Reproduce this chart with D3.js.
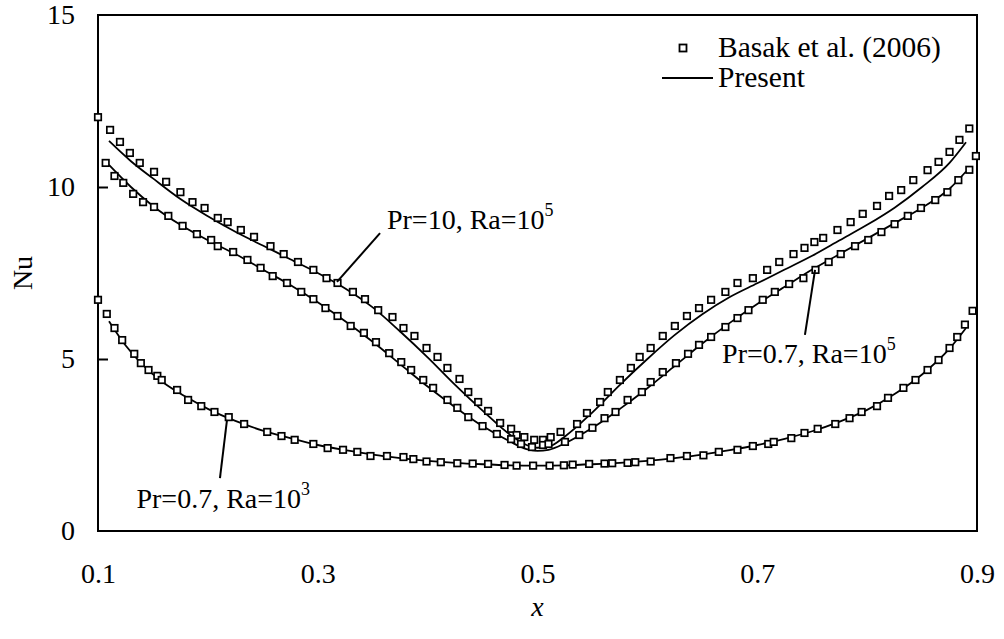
<!DOCTYPE html>
<html>
<head>
<meta charset="utf-8">
<script src="https://cdn.jsdelivr.net/npm/d3@7"></script>
<style>
  body { margin: 0; background: #fff; }
</style>
</head>
<body>
<div id="main"></div>
<script>
// tick labels
const xTicks = [0.1, 0.3, 0.5, 0.7, 0.9];
const yTicks = [0, 5, 10, 15];

// Basak et al. (2006), [x, Nu]
const basakPr10 = [
  [0.100,12.03],[0.111,11.66],[0.120,11.31],[0.129,10.99],[0.138,10.70],[0.151,10.44],[0.162,10.15],
  [0.175,9.85],[0.186,9.56],[0.197,9.39],[0.209,9.10],[0.218,8.98],[0.230,8.75],[0.242,8.55],
  [0.257,8.28],[0.269,8.05],[0.282,7.82],[0.296,7.59],[0.308,7.35],[0.318,7.21],[0.332,6.95],
  [0.343,6.74],[0.355,6.42],[0.368,6.22],[0.378,5.90],[0.388,5.67],[0.399,5.32],[0.409,5.06],
  [0.418,4.74],[0.429,4.42],[0.437,4.04],[0.446,3.75],[0.455,3.49],[0.466,3.14],[0.476,2.97],
  [0.481,2.79],[0.488,2.73],[0.497,2.65],[0.505,2.65],[0.512,2.73],[0.521,2.88],[0.536,3.11],
  [0.545,3.43],[0.557,3.75],[0.564,4.04],[0.575,4.39],[0.585,4.74],[0.593,5.06],[0.603,5.32],
  [0.614,5.67],[0.625,5.96],[0.636,6.25],[0.647,6.48],[0.658,6.72],[0.671,6.95],[0.682,7.21],
  [0.696,7.35],[0.709,7.59],[0.720,7.82],[0.733,8.05],[0.743,8.23],[0.752,8.40],[0.760,8.52],
  [0.773,8.75],[0.785,8.98],[0.796,9.22],[0.809,9.45],[0.820,9.74],[0.831,9.91],[0.842,10.20],
  [0.855,10.49],[0.865,10.73],[0.875,11.02],[0.884,11.37],[0.893,11.70]
];
const basakPr07Ra5 = [
  [0.107,10.70],[0.115,10.32],[0.123,10.12],[0.132,9.80],[0.141,9.56],[0.151,9.42],[0.164,9.16],
  [0.177,8.87],[0.190,8.63],[0.203,8.46],[0.209,8.28],[0.223,8.11],[0.236,7.88],[0.248,7.65],
  [0.259,7.41],[0.272,7.21],[0.285,6.95],[0.296,6.74],[0.307,6.48],[0.318,6.25],[0.330,5.96],
  [0.342,5.76],[0.353,5.49],[0.365,5.17],[0.376,4.91],[0.385,4.68],[0.396,4.39],[0.405,4.16],
  [0.418,3.81],[0.427,3.58],[0.437,3.31],[0.450,3.05],[0.463,2.82],[0.476,2.67],[0.485,2.53],
  [0.495,2.44],[0.505,2.50],[0.510,2.53],[0.525,2.59],[0.538,2.79],[0.550,3.00],[0.561,3.28],
  [0.571,3.46],[0.582,3.81],[0.595,4.04],[0.603,4.33],[0.614,4.62],[0.626,4.88],[0.637,5.15],
  [0.647,5.41],[0.658,5.64],[0.671,5.93],[0.682,6.19],[0.692,6.42],[0.705,6.72],[0.716,6.95],
  [0.729,7.18],[0.742,7.35],[0.753,7.59],[0.765,7.82],[0.776,8.05],[0.789,8.28],[0.801,8.46],
  [0.813,8.69],[0.825,8.92],[0.837,9.16],[0.849,9.39],[0.862,9.62],[0.873,9.85],[0.883,10.20],
  [0.893,10.50],[0.899,10.90]
];
const basakPr07Ra3 = [
  [0.100,6.72],[0.108,6.31],[0.115,5.90],[0.122,5.55],[0.133,5.15],[0.139,4.88],[0.146,4.68],
  [0.154,4.51],[0.158,4.39],[0.172,4.10],[0.182,3.81],[0.194,3.63],[0.206,3.46],[0.219,3.31],
  [0.233,3.11],[0.254,2.88],[0.267,2.76],[0.279,2.65],[0.296,2.53],[0.309,2.41],[0.323,2.36],
  [0.336,2.30],[0.348,2.18],[0.363,2.18],[0.378,2.15],[0.387,2.09],[0.399,2.02],[0.412,2.00],
  [0.427,1.97],[0.441,1.96],[0.455,1.95],[0.470,1.92],[0.481,1.90],[0.496,1.90],[0.511,1.90],
  [0.524,1.91],[0.532,1.93],[0.547,1.95],[0.561,1.96],[0.568,1.97],[0.582,1.98],[0.589,2.00],
  [0.603,2.02],[0.621,2.12],[0.636,2.18],[0.651,2.20],[0.665,2.30],[0.682,2.36],[0.696,2.47],
  [0.710,2.53],[0.715,2.59],[0.731,2.70],[0.743,2.85],[0.755,2.97],[0.771,3.11],[0.784,3.28],
  [0.795,3.46],[0.809,3.63],[0.819,3.87],[0.833,4.16],[0.844,4.39],[0.855,4.68],[0.865,4.97],
  [0.875,5.32],[0.882,5.64],[0.889,6.00],[0.896,6.40]
];

// Present results, [x, Nu]
const presentPr10 = [
  [0.110,11.34],[0.130,10.75],[0.150,10.25],[0.175,9.65],[0.200,9.15],[0.225,8.70],[0.250,8.30],
  [0.275,7.90],[0.300,7.50],[0.325,7.05],[0.350,6.50],[0.375,5.80],[0.400,5.05],[0.425,4.25],
  [0.450,3.50],[0.475,2.80],[0.490,2.50],[0.500,2.42],[0.510,2.45],[0.525,2.75],[0.550,3.45],
  [0.575,4.25],[0.600,5.00],[0.625,5.70],[0.650,6.30],[0.675,6.80],[0.700,7.20],[0.725,7.60],
  [0.750,8.00],[0.775,8.45],[0.800,8.90],[0.825,9.40],[0.850,10.00],[0.875,10.70],[0.890,11.30]
];
const presentPr07Ra5 = [
  [0.110,10.64],[0.130,10.00],[0.150,9.45],[0.175,8.90],[0.200,8.45],[0.225,8.05],[0.250,7.60],
  [0.275,7.15],[0.300,6.65],[0.325,6.10],[0.350,5.50],[0.375,4.85],[0.400,4.20],[0.425,3.60],
  [0.450,3.05],[0.475,2.60],[0.490,2.38],[0.500,2.33],[0.510,2.36],[0.525,2.55],[0.550,3.00],
  [0.575,3.55],[0.600,4.15],[0.625,4.80],[0.650,5.45],[0.675,6.05],[0.700,6.60],[0.725,7.10],
  [0.750,7.60],[0.775,8.05],[0.800,8.50],[0.825,8.95],[0.850,9.40],[0.875,9.95],[0.890,10.45]
];
const presentPr07Ra3 = [
  [0.110,6.10],[0.125,5.40],[0.140,4.85],[0.160,4.30],[0.180,3.90],[0.200,3.55],[0.225,3.20],
  [0.250,2.92],[0.275,2.70],[0.300,2.50],[0.325,2.35],[0.350,2.22],[0.375,2.12],[0.400,2.04],
  [0.425,1.98],[0.450,1.94],[0.475,1.91],[0.500,1.90],[0.525,1.91],[0.550,1.94],[0.575,1.98],
  [0.600,2.04],[0.625,2.12],[0.650,2.22],[0.675,2.35],[0.700,2.50],[0.725,2.68],[0.750,2.90],
  [0.775,3.18],[0.800,3.52],[0.825,3.98],[0.850,4.55],[0.875,5.30],[0.890,5.90]
];

// case labels: text, exponent, leader [from, to], text anchor point (data units)
const caseLabels = [
  { text: 'Pr=10, Ra=10', exp: '5', lead: [[0.3175, 7.24], [0.3567, 8.66]], at: [0.363, 8.78] },
  { text: 'Pr=0.7, Ra=10', exp: '5', lead: [[0.7526, 7.59], [0.7434, 5.70]], at: [0.668, 4.88] },
  { text: 'Pr=0.7, Ra=10', exp: '3', lead: [[0.2174, 3.23], [0.2110, 1.54]], at: [0.135, 0.68] }
];

const W = 1004, H = 639;
const plot = { left: 98, right: 977, top: 15, bottom: 531 };
const font = '"Liberation Serif", "Times New Roman", Times, "DejaVu Serif", serif';
const fs = 28;

const svg = d3.select('#main').append('svg')
  .attr('width', W)
  .attr('height', H)
  .attr('font-family', font);

svg.append('rect').attr('width', W).attr('height', H).attr('fill', '#fff');

const x = d3.scaleLinear().domain([0.1, 0.9]).range([plot.left, plot.right]);
const y = d3.scaleLinear().domain([0, 15]).range([plot.bottom, plot.top]);

// axes
const yAxis = svg.append('g')
  .attr('transform', `translate(${plot.left},0)`)
  .call(d3.axisLeft(y).tickValues(yTicks).tickSizeInner(-10).tickSizeOuter(0).tickPadding(23));
yAxis.attr('font-family', font).attr('font-size', fs);
yAxis.select('.domain').remove();
yAxis.selectAll('.tick line')
  .attr('stroke', '#000').attr('stroke-width', 2)
  .attr('display', d => (d === 0 || d === 15) ? 'none' : null);

const xAxis = svg.append('g')
  .attr('transform', `translate(0,${plot.bottom})`)
  .call(d3.axisBottom(x).tickValues(xTicks).tickSize(0).tickPadding(32).tickFormat(d3.format('.1f')));
xAxis.attr('font-family', font).attr('font-size', fs);
xAxis.select('.domain').remove();

// frame
svg.append('rect')
  .attr('x', plot.left).attr('y', plot.top)
  .attr('width', plot.right - plot.left).attr('height', plot.bottom - plot.top)
  .attr('fill', 'none').attr('stroke', '#000').attr('stroke-width', 2);

// titles
svg.append('text')
  .attr('transform', `translate(32,${(plot.top + plot.bottom) / 2}) rotate(-90)`)
  .attr('text-anchor', 'middle')
  .attr('font-size', fs)
  .text('Nu');

svg.append('text')
  .attr('x', (plot.left + plot.right) / 2)
  .attr('y', 616)
  .attr('text-anchor', 'middle')
  .attr('font-size', fs)
  .attr('font-style', 'italic')
  .text('x');

// present lines
const line = d3.line().x(d => x(d[0])).y(d => y(d[1])).curve(d3.curveMonotoneX);
[presentPr10, presentPr07Ra5, presentPr07Ra3].forEach(s => {
  svg.append('path')
    .datum(s)
    .attr('d', line)
    .attr('fill', 'none')
    .attr('stroke', '#000')
    .attr('stroke-width', 1.8);
});

// Basak squares
const sq = 6.5;
[basakPr10, basakPr07Ra5, basakPr07Ra3].forEach(s => {
  svg.append('g').selectAll('rect')
    .data(s)
    .enter().append('rect')
    .attr('x', d => x(d[0]) - sq / 2)
    .attr('y', d => y(d[1]) - sq / 2)
    .attr('width', sq)
    .attr('height', sq)
    .attr('fill', '#fff')
    .attr('stroke', '#000')
    .attr('stroke-width', 1.7);
});

// case labels with leaders
caseLabels.forEach(c => {
  svg.append('line')
    .attr('x1', x(c.lead[0][0])).attr('y1', y(c.lead[0][1]))
    .attr('x2', x(c.lead[1][0])).attr('y2', y(c.lead[1][1]))
    .attr('stroke', '#000').attr('stroke-width', 2);
  const t = svg.append('text')
    .attr('x', x(c.at[0]))
    .attr('y', y(c.at[1]))
    .attr('font-size', fs);
  t.append('tspan').text(c.text);
  t.append('tspan').attr('dy', -13).attr('font-size', 18).text(c.exp);
});

// legend
const lg = svg.append('g');
lg.append('rect')
  .attr('x', 683 - 3.5).attr('y', 48 - 3.5)
  .attr('width', 7).attr('height', 7)
  .attr('fill', '#fff').attr('stroke', '#000').attr('stroke-width', 1.8);
lg.append('text').attr('x', 718).attr('y', 57).attr('font-size', 29.5).text('Basak et al. (2006)');
lg.append('line')
  .attr('x1', 662).attr('x2', 713).attr('y1', 78).attr('y2', 78)
  .attr('stroke', '#000').attr('stroke-width', 1.8);
lg.append('text').attr('x', 718).attr('y', 87).attr('font-size', 29.5).text('Present');
</script>
</body>
</html>
